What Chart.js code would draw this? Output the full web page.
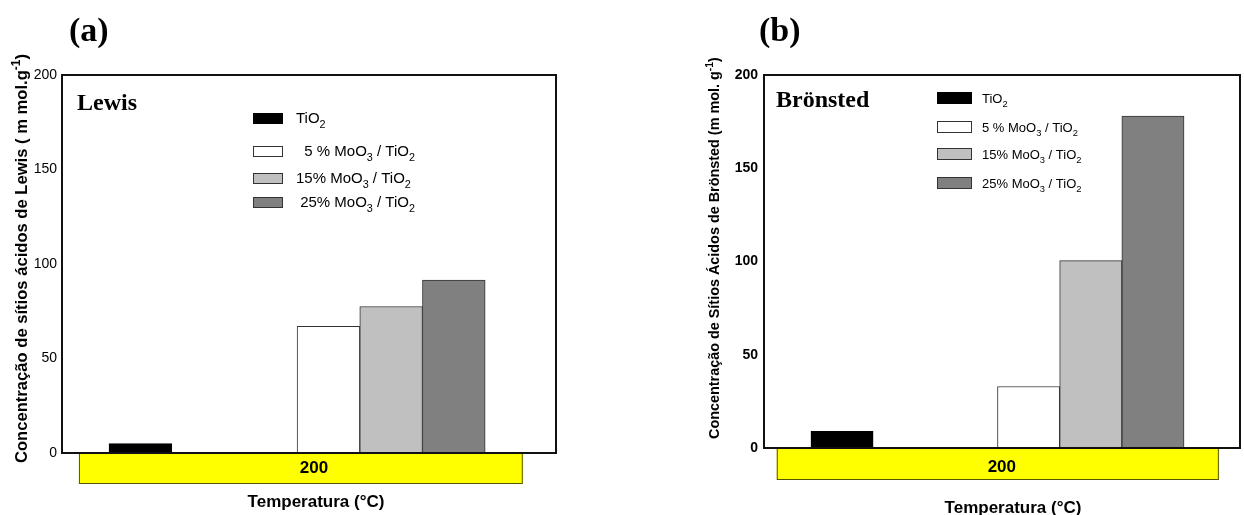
<!DOCTYPE html>
<html>
<head>
<meta charset="utf-8">
<script src="https://cdn.jsdelivr.net/npm/chart.js@4.4.1/dist/chart.umd.min.js"></script>
<style>
  html, body { margin: 0; padding: 0; background: #fff; }
  #wrap { position: relative; width: 1244px; height: 515px; overflow: hidden; }
  .panel { position: absolute; top: 0; width: 622px; height: 515px; }
</style>
</head>
<body>
<div id="wrap">
  <div class="panel" style="left:0"><canvas id="lewisChart"></canvas></div>
  <div class="panel" style="left:622px"><canvas id="bronstedChart"></canvas></div>
</div>
<script>
// catalysts, in bar order (_{} = subscript, ^{} = superscript)
const lewisLabels = ['TiO_{2}', '  5 % MoO_{3} / TiO_{2}', '15% MoO_{3} / TiO_{2}', ' 25% MoO_{3} / TiO_{2}'];
const bronstedLabels = ['TiO_{2}', '5 % MoO_{3} / TiO_{2}', '15% MoO_{3} / TiO_{2}', '25% MoO_{3} / TiO_{2}'];
// bar slot of each catalyst inside the 200 °C group
const barSlots = [0, 3, 4, 5];
// acid site concentration (m mol.g-1)
const lewisValues = [5, 67, 77.5, 91.5];
const bronstedValues = [9, 33, 100.5, 178];
const temperatures = ['200'];
const yTicks = [0, 50, 100, 150, 200];

const barFills = ['#000000', '#ffffff', '#c0c0c0', '#808080'];
const barEdges = ['#000000', '#333333', '#333333', '#333333'];
const FONT = '"Liberation Sans", Arial, sans-serif';
const SERIF = '"Liberation Serif", "Times New Roman", serif';

function richParts(text) {
  const parts = [];
  const re = /([_^])\{([^}]*)\}/g;
  let last = 0, m;
  while ((m = re.exec(text))) {
    if (m.index > last) parts.push({ t: text.slice(last, m.index), s: 0 });
    parts.push({ t: m[2], s: m[1] === '_' ? 1 : -1 });
    last = re.lastIndex;
  }
  if (last < text.length) parts.push({ t: text.slice(last), s: 0 });
  return parts;
}

function drawRich(ctx, text, x, y, size, weight) {
  let cx = x;
  for (const p of richParts(text)) {
    const fs = p.s ? size * 0.72 : size;
    ctx.font = `${weight} ${fs}px ${FONT}`;
    const dy = p.s === 1 ? size * 0.32 : p.s === -1 ? -size * 0.42 : 0;
    ctx.fillText(p.t, cx, y + dy);
    cx += ctx.measureText(p.t).width;
  }
  return cx - x;
}

const decorPlugin = {
  id: 'decor',
  afterDraw(chart, args, o) {
    const ctx = chart.ctx;
    const { left, top, right, bottom } = chart.chartArea;
    const xs = chart.scales.x;
    ctx.save();
    ctx.textAlign = 'left';
    ctx.textBaseline = 'alphabetic';
    ctx.fillStyle = '#000';

    // yellow temperature band under the axis
    const b0 = xs.getPixelForValue(o.band[0]);
    const b1 = xs.getPixelForValue(o.band[1]);
    ctx.fillStyle = '#ffff00';
    ctx.fillRect(b0, bottom, b1 - b0, o.bandHeight);
    ctx.strokeStyle = '#555500';
    ctx.lineWidth = 1;
    ctx.strokeRect(b0 + 0.5, bottom + 0.5, b1 - b0 - 1, o.bandHeight - 1);
    ctx.fillStyle = '#000';
    ctx.font = `bold 17px ${FONT}`;
    ctx.textAlign = 'center';
    ctx.fillText(temperatures[0], xs.getPixelForValue(o.tickAt), o.tickBaseline);

    // x axis title
    ctx.fillText('Temperatura (°C)', o.xTitle[0], o.xTitle[1]);
    ctx.textAlign = 'left';

    // plot frame
    ctx.strokeStyle = '#111';
    ctx.lineWidth = 2;
    ctx.strokeRect(left, top, right - left, bottom - top);

    // panel letter and acid type
    ctx.font = `bold 34px ${SERIF}`;
    ctx.fillText(o.panel, o.panelPos[0], o.panelPos[1]);
    ctx.font = `bold 24px ${SERIF}`;
    ctx.fillText(o.heading, o.headingPos[0], o.headingPos[1]);

    // legend
    const lg = o.legend;
    chart.data.datasets.forEach((ds, i) => {
      const ty = lg.tops[i];
      ctx.fillStyle = ds.backgroundColor;
      ctx.fillRect(lg.x, ty, lg.w, lg.h);
      ctx.strokeStyle = i === 0 ? '#000' : '#333';
      ctx.lineWidth = 1;
      ctx.strokeRect(lg.x + 0.5, ty + 0.5, lg.w - 1, lg.h - 1);
      ctx.fillStyle = '#000';
      drawRich(ctx, ds.label, lg.textX, ty + lg.h - 1, lg.size, 'normal');
    });

    // y axis title, read bottom to top
    ctx.translate(o.yTitle[0], o.yTitle[1]);
    ctx.rotate(-Math.PI / 2);
    drawRich(ctx, o.yTitleText, 0, 0, o.yTitleSize, 'bold');
    ctx.restore();
  }
};

function buildChart(id, labels, values, f) {
  const datasets = labels.map((label, i) => ({
    label,
    data: [{ x: barSlots[i], y: values[i] }],
    backgroundColor: barFills[i],
    borderColor: barEdges[i],
    borderWidth: 1,
    grouped: false,
    categoryPercentage: 1,
    barPercentage: 1
  }));

  return new Chart(document.getElementById(id), {
    type: 'bar',
    data: { datasets },
    options: {
      responsive: true,
      maintainAspectRatio: false,
      devicePixelRatio: 1,
      animation: false,
      layout: {
        padding: { left: 0, top: f.frame.top, right: 622 - f.frame.right, bottom: 515 - f.frame.bottom }
      },
      plugins: {
        legend: { display: false },
        tooltip: { enabled: false },
        decor: f.decor
      },
      scales: {
        x: {
          type: 'linear',
          display: false,
          bounds: 'data',
          offset: false,
          min: f.xRange[0],
          max: f.xRange[1],
          // one tick per whole slot, so each bar fills its slot
          afterBuildTicks: (scale) => {
            const t = [];
            for (let v = Math.ceil(scale.min); v <= Math.floor(scale.max); v++) t.push({ value: v });
            scale.ticks = t;
          }
        },
        y: {
          min: 0,
          max: 200,
          afterFit: (scale) => { scale.width = f.frame.left; },
          afterBuildTicks: (scale) => { scale.ticks = yTicks.map(v => ({ value: v })); },
          grid: { display: false, drawTicks: false },
          border: { display: false },
          ticks: {
            color: '#000',
            padding: f.tickPad,
            font: { family: FONT, size: 14, weight: f.tickWeight }
          }
        }
      }
    },
    plugins: [decorPlugin]
  });
}

buildChart('lewisChart', lewisLabels, lewisValues, {
  frame: { left: 62, top: 75, right: 556, bottom: 453 },
  xRange: [-1.25, 6.63],
  tickPad: 5,
  tickWeight: 'normal',
  decor: {
    band: [-0.98, 6.1], bandHeight: 31, tickAt: 2.77, tickBaseline: 473,
    xTitle: [316, 507],
    panel: '(a)', panelPos: [69, 41],
    heading: 'Lewis', headingPos: [77, 110],
    legend: { x: 253, w: 30, h: 11, tops: [113, 146, 173, 197], textX: 296, size: 15 },
    yTitle: [27, 463], yTitleSize: 16.6,
    yTitleText: 'Concentração de sítios ácidos de Lewis ( m mol.g^{-1})'
  }
});

buildChart('bronstedChart', bronstedLabels, bronstedValues, {
  frame: { left: 142, top: 75, right: 618, bottom: 448 },
  xRange: [-1.255, 6.4],
  tickPad: 6,
  tickWeight: 'bold',
  decor: {
    band: [-1.05, 6.06], bandHeight: 32, tickAt: 2.57, tickBaseline: 472,
    xTitle: [391, 513],
    panel: '(b)', panelPos: [137, 41],
    heading: 'Brönsted', headingPos: [154, 107],
    legend: { x: 315, w: 35, h: 12, tops: [92, 121, 148, 177], textX: 360, size: 13 },
    yTitle: [97, 439], yTitleSize: 14.4,
    yTitleText: 'Concentração de Sítios Ácidos de Brönsted (m mol. g^{-1})'
  }
});
</script>
</body>
</html>
